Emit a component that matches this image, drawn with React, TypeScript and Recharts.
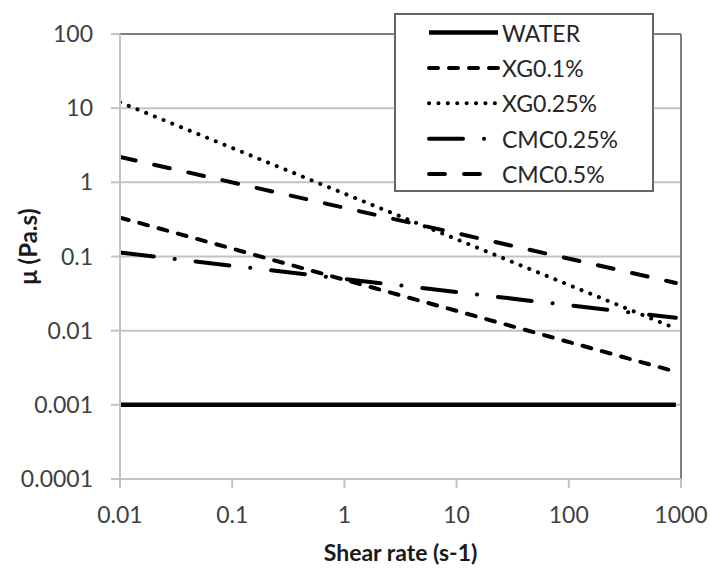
import React from "react";
import {
  LineChart,
  Line,
  XAxis,
  YAxis,
  CartesianGrid,
  Legend,
  ReferenceLine,
  Label,
} from "recharts";

// ---- data ----
const shearRate = [0.01, 900];
const water = [0.001, 0.001];
const xg01 = [0.335, 0.0028];
const xg025 = [12, 0.0107];
const cmc025 = [0.113, 0.0149];
const cmc05 = [2.2, 0.044];

const xTicks = [0.01, 0.1, 1, 10, 100, 1000];
const xTickLabels = ["0.01", "0.1", "1", "10", "100", "1000"];
const yTicks = [0.0001, 0.001, 0.01, 0.1, 1, 10, 100];
const yTickLabels = ["0.0001", "0.001", "0.01", "0.1", "1", "10", "100"];

const seriesNames = ["WATER", "XG0.1%", "XG0.25%", "CMC0.25%", "CMC0.5%"];
const seriesKeys = ["water", "xg01", "xg025", "cmc025", "cmc05"];

const data = shearRate.map((x, i) => ({
  x,
  water: water[i],
  xg01: xg01[i],
  xg025: xg025[i],
  cmc025: cmc025[i],
  cmc05: cmc05[i],
}));

const styles: Record<string, { dash?: string; width: number; cap: "round" | "butt" }> = {
  water: { width: 4.5, cap: "butt" },
  xg01: { dash: "9 11", width: 4, cap: "round" },
  xg025: { dash: "0.1 9.3", width: 4, cap: "round" },
  cmc025: { dash: "34 21 0.1 21", width: 4, cap: "round" },
  cmc05: { dash: "16 19", width: 4, cap: "round" },
};

const FONT = "Lato, 'Open Sans', sans-serif";
const GRID = "#c3c3c3";
const BORDER = "#7f7f7f";

const LegendBox = () => (
  <div
    style={{
      width: 260,
      height: 179,
      boxSizing: "border-box",
      border: "2px solid #666",
      background: "#fff",
    }}
  >
    <svg width={256} height={175} style={{ display: "block" }}>
      {seriesKeys.map((k, i) => {
        const y = 17.5 + i * 35.4;
        const s = styles[k];
        return (
          <g key={k}>
            <line
              x1={33}
              x2={102}
              y1={y}
              y2={y}
              stroke="#000"
              strokeWidth={s.width}
              strokeDasharray={s.dash}
              strokeLinecap={s.cap}
            />
            <text
              x={106}
              y={y}
              dominantBaseline="central"
              fontFamily={FONT}
              fontSize={23}
              fill="#262626"
            >
              {seriesNames[i]}
            </text>
          </g>
        );
      })}
    </svg>
  </div>
);

const XTitle = (props: any) => {
  const vb = props.viewBox;
  return (
    <text
      x={vb.x + vb.width / 2}
      y={vb.y + 73}
      textAnchor="middle"
      dominantBaseline="central"
      fontFamily={FONT}
      fontWeight="bold"
      fontSize={23}
      fill="#1a1a1a"
    >
      Shear rate (s-1)
    </text>
  );
};

const YTitle = (props: any) => {
  const vb = props.viewBox;
  const cx = vb.x + 7;
  const cy = vb.y + vb.height / 2 - 10;
  return (
    <text
      x={cx}
      y={cy}
      transform={`rotate(-90 ${cx} ${cy})`}
      textAnchor="middle"
      dominantBaseline="central"
      fontFamily={FONT}
      fontWeight="bold"
      fontSize={24}
      fill="#1a1a1a"
    >
      μ  (Pa.s)
    </text>
  );
};

export default function App() {
  return (
    <div style={{ position: "absolute", left: 0, top: 0, width: 710, height: 568, background: "#fff" }}>
      <LineChart
        width={710}
        height={568}
        data={data}
        margin={{ top: 34, right: 29, bottom: 29, left: 20 }}
      >
        <CartesianGrid vertical={false} stroke={GRID} strokeWidth={2} />
        <XAxis
          dataKey="x"
          type="number"
          scale="log"
          domain={[0.01, 1000]}
          ticks={xTicks}
          tickFormatter={(v: number) => xTickLabels[xTicks.indexOf(v)] ?? String(v)}
          height={60}
          tickSize={9}
          tickMargin={19}
          axisLine={{ stroke: GRID, strokeWidth: 2 }}
          tickLine={{ stroke: GRID, strokeWidth: 2 }}
          tick={{ fontFamily: FONT, fontSize: 23, fill: "#404040" }}
          interval={0}
          allowDataOverflow
        >
          <Label content={<XTitle />} />
        </XAxis>
        <YAxis
          type="number"
          scale="log"
          domain={[0.0001, 100]}
          ticks={yTicks}
          tickFormatter={(v: number) => yTickLabels[yTicks.indexOf(v)] ?? String(v)}
          width={100}
          tickSize={9}
          tickMargin={18}
          axisLine={{ stroke: GRID, strokeWidth: 2 }}
          tickLine={{ stroke: GRID, strokeWidth: 2 }}
          tick={{ fontFamily: FONT, fontSize: 23, fill: "#404040" }}
          interval={0}
          allowDataOverflow
        >
          <Label content={<YTitle />} />
        </YAxis>
        <ReferenceLine y={100} stroke={BORDER} strokeWidth={2} />
        <ReferenceLine x={1000} stroke={BORDER} strokeWidth={2} />
        {seriesKeys.map((k, i) => (
          <Line
            key={k}
            dataKey={k}
            name={seriesNames[i]}
            stroke="#000"
            strokeWidth={styles[k].width}
            strokeDasharray={styles[k].dash}
            strokeLinecap={styles[k].cap}
            dot={false}
            activeDot={false}
            isAnimationActive={false}
          />
        ))}
        <Legend
          layout="vertical"
          align="center"
          verticalAlign="middle"
          content={<LegendBox />}
          wrapperStyle={{ left: 394, top: 13, width: 260, height: 179 }}
        />
      </LineChart>
    </div>
  );
}
